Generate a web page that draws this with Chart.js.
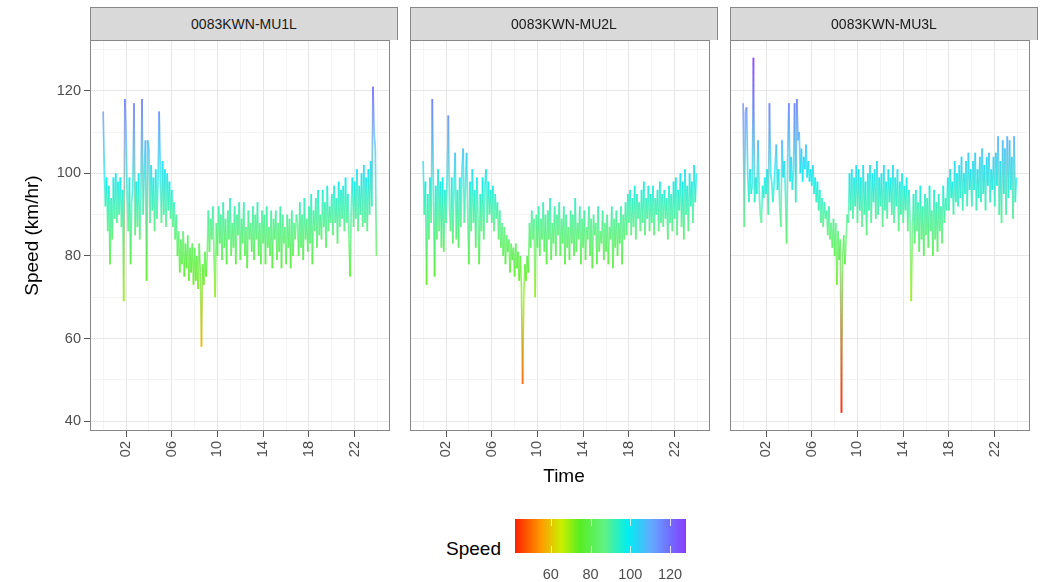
<!DOCTYPE html>
<html>
<head>
<meta charset="utf-8">
<title>Lane speed</title>
<script src="https://cdn.jsdelivr.net/npm/chart.js@4.4.1/dist/chart.umd.min.js"></script>
<style>
  html, body { margin: 0; padding: 0; background: #fff; }
  #page { position: relative; width: 1049px; height: 582px; overflow: hidden;
          font-family: "Liberation Sans", Arial, sans-serif; }
  #page canvas { position: absolute; }
  .strip { position: absolute; top: 7px; height: 33px; box-sizing: border-box;
           background: #d9d9d9; border: 1px solid #888; border-bottom: none;
           color: #1a1a1a; font-size: 14px; line-height: 32px; text-align: center; }
  #timeTitle { position: absolute; top: 465px; left: 464px; width: 200px; text-align: center;
               font-size: 19px; color: #000; }
  #legendTitle { position: absolute; top: 538px; left: 400px; width: 101px; text-align: right;
                 font-size: 19px; color: #000; }
  #legendBar { position: absolute; left: 515px; top: 519px; width: 171px; height: 34px; }
  .legendTick { position: absolute; width: 1px; background: rgba(255,255,255,0.8); }
  .legendLabel { position: absolute; top: 566px; font-size: 14.5px; color: #4d4d4d;
                 transform: translateX(-50%); }
</style>
</head>
<body>
<div id="page">
  <canvas id="panel0"></canvas>
  <canvas id="panel1"></canvas>
  <canvas id="panel2"></canvas>
  <div id="timeTitle">Time</div>
  <div id="legendTitle">Speed</div>
  <div id="legendBar"></div>
</div>
<script>
const panelNames = ["0083KWN-MU1L", "0083KWN-MU2L", "0083KWN-MU3L"];

// speed readings (km/hr), one row per hour, every 6 minutes from 00:00
const speedMU1L = [
  115, 101, 92, 99, 86, 97, 78, 94, 84, 99,
  89, 100, 88, 98, 90, 99, 87, 96, 69, 118,
  110, 95, 86, 99, 78, 93, 97, 117, 85, 98,
  87, 100, 84, 95, 118, 90, 101, 108, 74, 108,
  106, 88, 102, 91, 99, 86, 101, 89, 98, 115,
  100, 88, 103, 90, 101, 87, 100, 91, 98, 89,
  96, 87, 93, 84, 90, 80, 86, 76, 84, 78,
  86, 75, 83, 77, 85, 74, 82, 76, 83, 73,
  82, 74, 80, 72, 83, 76, 58, 78, 73, 81,
  75, 80, 91, 81, 89, 84, 92, 80, 70, 88,
  80, 92, 83, 90, 79, 93, 82, 89, 78, 91,
  84, 94, 80, 88, 82, 92, 78, 90, 85, 93,
  79, 89, 83, 93, 80, 87, 77, 91, 84, 88,
  81, 92, 79, 90, 84, 93, 80, 88, 78, 91,
  83, 90, 78, 92, 82, 87, 80, 91, 77, 89,
  84, 91, 79, 88, 81, 92, 77, 90, 83, 87,
  78, 90, 82, 89, 77, 91, 80, 88, 84, 90,
  88, 80, 93, 82, 90, 79, 94, 84, 89, 81,
  92, 83, 95, 78, 91, 86, 94, 82, 96, 85,
  90, 84, 96, 87, 93, 82, 97, 86, 92, 88,
  95, 85, 97, 88, 94, 83, 98, 87, 96, 89,
  97, 86, 99, 88, 95, 84, 75, 92, 99, 87,
  98, 89, 101, 86, 97, 90, 100, 87, 102, 88,
  99, 86, 101, 90, 103, 92, 121, 110, 106, 80
];

const speedMU2L = [
  103, 90, 98, 73, 95, 84, 99, 88, 118, 96,
  75, 97, 84, 101, 86, 98, 82, 99, 81, 96,
  88, 98, 114, 92, 86, 99, 83, 97, 105, 84,
  96, 82, 99, 87, 101, 106, 88, 97, 105, 90,
  78, 98, 86, 101, 88, 96, 82, 99, 90, 78,
  95, 86, 99, 84, 97, 101, 88, 98, 90, 96,
  88, 97, 86, 95, 89, 93, 84, 91, 82, 88,
  80, 87, 78, 85, 81, 84, 76, 83, 79, 82,
  75, 83, 77, 81, 74, 80, 72, 49, 70, 78,
  74, 80, 76, 88, 82, 91, 84, 89, 70, 90,
  82, 92, 80, 89, 84, 93, 81, 90, 78, 91,
  84, 94, 79, 88, 83, 92, 80, 90, 85, 93,
  80, 89, 83, 92, 78, 90, 82, 87, 79, 91,
  83, 90, 80, 94, 81, 88, 84, 92, 78, 89,
  82, 91, 79, 87, 84, 92, 80, 89, 77, 90,
  85, 88, 78, 92, 81, 86, 83, 91, 79, 88,
  81, 90, 78, 87, 84, 92, 77, 89, 82, 91,
  80, 88, 83, 92, 78, 90, 84, 93, 85, 95,
  88, 96, 85, 94, 87, 97, 84, 95, 89, 93,
  86, 96, 88, 98, 85, 94, 89, 97, 86, 95,
  88, 97, 85, 94, 90, 96, 86, 98, 88, 95,
  87, 96, 89, 94, 84, 97, 88, 95, 86, 98,
  89, 99, 85, 96, 91, 100, 87, 98, 84, 101,
  90, 97, 86, 100, 92, 98, 88, 102, 93, 100
];

const speedMU3L = [
  117, 87, 115, 116, 100, 93, 101, 95, 97, 128,
  93, 99, 95, 108, 96, 90, 88, 97, 94, 99,
  95, 101, 90, 117, 100, 98, 93, 97, 102, 107,
  96, 101, 92, 87, 108, 99, 103, 95, 83, 105,
  117, 98, 104, 96, 101, 117, 93, 118, 108, 110,
  100, 106, 98, 104, 101, 107, 99, 103, 98, 101,
  97, 102, 95, 99, 93, 98, 91, 96, 88, 94,
  87, 93, 89, 91, 85, 92, 84, 88, 82, 89,
  80, 88, 73, 86, 79, 84, 42, 80, 85, 78,
  84, 90, 88, 100, 91, 101, 89, 99, 92, 102,
  88, 101, 91, 99, 87, 102, 90, 98, 85, 100,
  91, 102, 88, 100, 93, 101, 89, 103, 90, 99,
  92, 100, 87, 102, 91, 98, 89, 101, 93, 99,
  90, 102, 88, 99, 92, 101, 86, 98, 90, 100,
  88, 97, 91, 99, 86, 96, 89, 69, 85, 95,
  83, 96, 86, 93, 81, 97, 84, 92, 80, 95,
  85, 94, 82, 97, 86, 91, 80, 96, 84, 93,
  81, 95, 86, 92, 83, 97, 88, 94, 91, 99,
  91, 101, 94, 98, 90, 103, 93, 100, 92, 102,
  94, 104, 91, 100, 95, 103, 92, 105, 96, 101,
  92, 103, 96, 105, 91, 101, 94, 104, 93, 106,
  95, 102, 91, 104, 97, 105, 93, 101, 96, 104,
  92, 105, 97, 109, 90, 103, 88, 108, 95, 106,
  90, 109, 94, 108, 96, 104, 89, 109, 93, 99
];

const panelSpeeds = [speedMU1L, speedMU2L, speedMU3L];

const sampleStep = 0.1;
const hours = speedMU1L.map((_, i) => +(i * sampleStep).toFixed(1));

const hourTicks = [2, 6, 10, 14, 18, 22];
const hourMinor = [0, 4, 8, 12, 16, 20, 24];
const speedTicks = [40, 60, 80, 100, 120];
const speedMinor = [50, 70, 90, 110, 130];
const legendTicks = [60, 80, 100, 120];

// colour ramp for speed, low (red) to high (violet)
const rampAt = [0, 0.15, 0.27, 0.38, 0.52, 0.66, 0.8, 0.9, 1];
const rampHex = ["#ff2000", "#ff9900", "#ccee00", "#55ee22", "#62f282",
                 "#00eef0", "#66a8ff", "#7070ff", "#8a3cff"];

const allSpeeds = [].concat(speedMU1L, speedMU2L, speedMU3L);
const speedMin = Math.min(...allSpeeds);
const speedMax = Math.max(...allSpeeds);

const plotLefts = [90, 410, 730];
const plotWidth = 308;
const yAxisWidth = [90, 0, 0];
const padTop = 14;

function hexRgb(h) {
  return [1, 3, 5].map((k) => parseInt(h.slice(k, k + 2), 16));
}

function speedColour(v, alpha) {
  let f = (v - speedMin) / (speedMax - speedMin);
  f = Math.min(1, Math.max(0, f));
  let k = 0;
  while (k < rampAt.length - 2 && f > rampAt[k + 1]) k++;
  const t = (f - rampAt[k]) / (rampAt[k + 1] - rampAt[k]);
  const a = hexRgb(rampHex[k]);
  const b = hexRgb(rampHex[k + 1]);
  const rgb = a.map((c, j) => Math.round(c + (b[j] - c) * t));
  return "rgba(" + rgb.join(",") + "," + alpha + ")";
}

const panelBorder = {
  id: "panelBorder",
  afterDatasetsDraw(chart) {
    const a = chart.chartArea;
    const ctx = chart.ctx;
    ctx.save();
    ctx.strokeStyle = "#888";
    ctx.lineWidth = 1;
    ctx.strokeRect(Math.round(a.left) + 0.5, Math.round(a.top) + 0.5,
      Math.round(a.right - a.left) - 1, Math.round(a.bottom - a.top) - 1);
    ctx.restore();
  }
};

function makePanel(i) {
  const showY = i === 0;
  const canvas = document.getElementById("panel" + i);
  canvas.width = yAxisWidth[i] + plotWidth + 1;
  canvas.height = 445;
  canvas.style.left = (plotLefts[i] - yAxisWidth[i]) + "px";
  canvas.style.top = (40 - padTop) + "px";

  // strip label above the panel
  const strip = document.createElement("div");
  strip.className = "strip";
  strip.style.left = plotLefts[i] + "px";
  strip.style.width = plotWidth + "px";
  strip.textContent = panelNames[i];
  document.getElementById("page").appendChild(strip);

  const points = panelSpeeds[i].map((v, k) => ({ x: hours[k], y: v }));

  return new Chart(canvas.getContext("2d"), {
    type: "line",
    data: {
      datasets: [{
        data: points,
        borderWidth: 1.7,
        pointRadius: 0,
        tension: 0,
        segment: {
          borderColor: (c) => {
            const g = c.chart.ctx.createLinearGradient(c.p0.x, c.p0.y, c.p1.x, c.p1.y);
            g.addColorStop(0, speedColour(c.p0.parsed.y, 0.72));
            g.addColorStop(1, speedColour(c.p1.parsed.y, 0.72));
            return g;
          }
        }
      }]
    },
    options: {
      responsive: false,
      animation: false,
      devicePixelRatio: 1,
      events: [],
      layout: { padding: { top: padTop, right: 1, left: 0, bottom: 0 } },
      plugins: { legend: { display: false }, tooltip: { enabled: false } },
      scales: {
        x: {
          type: "linear",
          min: -1.15,
          max: 25.1,
          afterBuildTicks: (s) => {
            s.ticks = hourMinor.concat(hourTicks).sort((a, b) => a - b).map((v) => ({ value: v }));
          },
          afterFit: (s) => { s.height = 40; },
          border: { display: false },
          grid: {
            color: (c) => hourTicks.includes(c.tick.value) ? "#e6e6e6" : "#f1f1f1",
            lineWidth: (c) => hourTicks.includes(c.tick.value) ? 1 : 0.8,
            tickColor: (c) => hourTicks.includes(c.tick.value) ? "#555" : "rgba(0,0,0,0)",
            tickLength: 6
          },
          ticks: {
            autoSkip: false,
            minRotation: 90,
            maxRotation: 90,
            padding: 4,
            color: "#4d4d4d",
            font: { family: "Liberation Sans", size: 14.5 },
            callback: (v) => hourTicks.includes(v) ? String(v).padStart(2, "0") : ""
          }
        },
        y: {
          min: 37.6,
          max: 132.3,
          afterBuildTicks: (s) => {
            s.ticks = speedTicks.concat(speedMinor).sort((a, b) => a - b).map((v) => ({ value: v }));
          },
          afterFit: (s) => { s.width = yAxisWidth[i]; },
          border: { display: false },
          grid: {
            color: (c) => speedTicks.includes(c.tick.value) ? "#e6e6e6" : "#f1f1f1",
            lineWidth: (c) => speedTicks.includes(c.tick.value) ? 1 : 0.8,
            tickColor: (c) => speedTicks.includes(c.tick.value) ? "#555" : "rgba(0,0,0,0)",
            drawTicks: showY,
            tickLength: 6
          },
          ticks: {
            display: showY,
            padding: 3,
            color: "#4d4d4d",
            font: { family: "Liberation Sans", size: 14.5 },
            callback: (v) => speedTicks.includes(v) ? String(v) : ""
          },
          title: {
            display: showY,
            text: "Speed (km/hr)",
            color: "#000",
            padding: { top: 21, bottom: 0 },
            font: { family: "Liberation Sans", size: 19 }
          }
        }
      }
    },
    plugins: [panelBorder]
  });
}

panelNames.forEach((_, i) => makePanel(i));

// colour bar legend
const bar = document.getElementById("legendBar");
const stops = rampHex.map((h, k) => h + " " + (rampAt[k] * 100) + "%");
bar.style.background = "linear-gradient(to right, " + stops.join(", ") + ")";
const page = document.getElementById("page");
legendTicks.forEach((v) => {
  const x = 515 + (v - speedMin) / (speedMax - speedMin) * 171;
  [519, 546].forEach((top) => {
    const t = document.createElement("div");
    t.className = "legendTick";
    t.style.left = Math.round(x) + "px";
    t.style.top = top + "px";
    t.style.height = "7px";
    page.appendChild(t);
  });
  const lab = document.createElement("div");
  lab.className = "legendLabel";
  lab.style.left = x + "px";
  lab.textContent = v;
  page.appendChild(lab);
});
</script>
</body>
</html>
